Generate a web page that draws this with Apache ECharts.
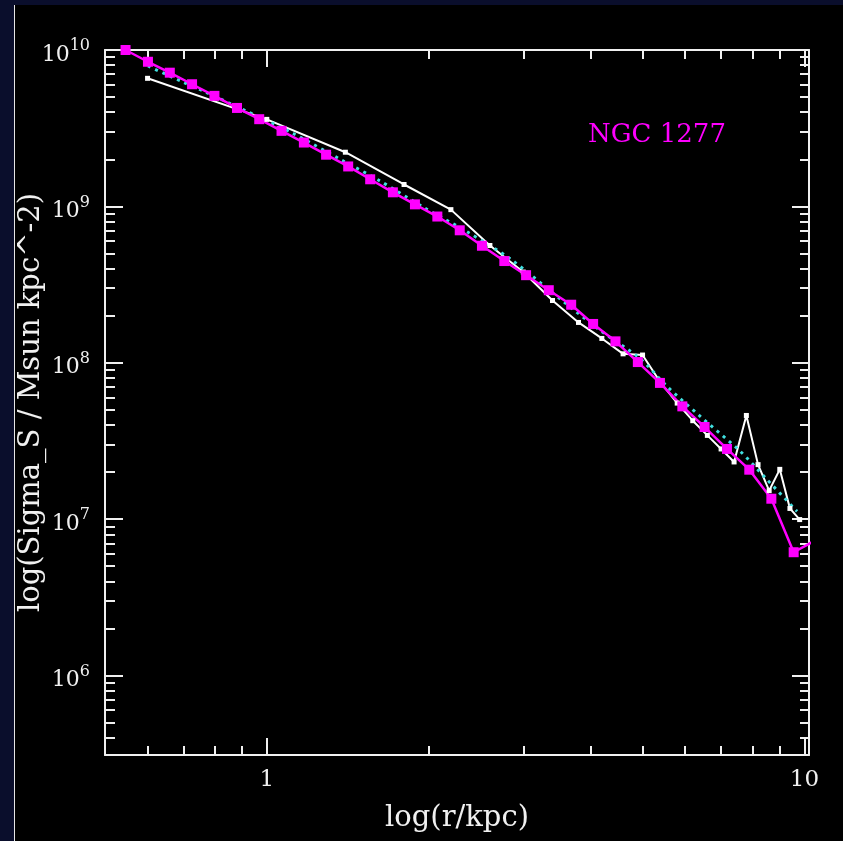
<!DOCTYPE html>
<html lang="en">
<head>
<meta charset="UTF-8">
<title>NGC 1277</title>
<script src="https://cdn.jsdelivr.net/npm/echarts@6/dist/echarts.min.js"></script>
<style>
    html,body{
        margin:0;
        padding:0;
        width:843px;
        height:841px;
        overflow:hidden;
        background:#0a0e2c;
    }
    #box{
        position:absolute;
        left:14px;
        top:5px;
        width:829px;
        height:836px;
        box-sizing:border-box;
        border-left:1px solid #e6e6e6;
        background:#000;
    }
    #chart{
        width:828px;
        height:836px;
    }
</style>
</head>
<body>
<div id="box"><div id="chart"></div></div>
<script>
    // magenta profile (squares)
    var magentaR = [0.546, 0.601, 0.660, 0.726, 0.799, 0.880, 0.968, 1.065, 1.172, 1.289, 1.417,
        1.557, 1.716, 1.886, 2.076, 2.285, 2.513, 2.766, 3.036, 3.346, 3.683, 4.046,
        4.452, 4.900, 5.387, 5.929, 6.522, 7.178, 7.898, 8.681, 9.552, 10.51];
    var magentaSigma = [1.0e10, 8.41e9, 7.16e9, 6.04e9, 5.09e9, 4.26e9, 3.61e9, 3.04e9, 2.56e9, 2.14e9, 1.80e9,
        1.49e9, 1.23e9, 1.03e9, 8.61e8, 7.03e8, 5.60e8, 4.47e8, 3.63e8, 2.91e8, 2.35e8, 1.77e8,
        1.37e8, 1.01e8, 7.43e7, 5.26e7, 3.88e7, 2.81e7, 2.07e7, 1.35e7, 6.14e6, 7.35e6];

    // white profile (small squares)
    var whiteR = [0.6, 1.0, 1.4, 1.8, 2.2, 2.6, 3.0, 3.4, 3.8, 4.2, 4.6, 5.0,
        5.4, 5.8, 6.2, 6.6, 7.0, 7.4, 7.8, 8.2, 8.6, 9.0, 9.4, 9.8];
    var whiteSigma = [6.59e9, 3.60e9, 2.22e9, 1.38e9, 9.53e8, 5.62e8, 3.80e8, 2.50e8, 1.81e8, 1.43e8, 1.14e8, 1.12e8,
        7.48e7, 5.52e7, 4.26e7, 3.43e7, 2.81e7, 2.32e7, 4.60e7, 2.23e7, 1.52e7, 2.08e7, 1.17e7, 9.93e6];

    // cyan dotted fit
    var fitR = [0.601, 0.697, 0.770, 0.913, 1.112, 1.377, 1.623, 1.955, 2.354, 2.835, 3.563, 4.170,
        4.951, 5.551, 6.401, 7.601, 8.520, 9.692];
    var fitSigma = [7.90e9, 6.25e9, 5.37e9, 4.09e9, 2.96e9, 1.98e9, 1.455e9, 9.88e8, 6.90e8, 4.62e8, 2.46e8, 1.61e8,
        1.06e8, 7.06e7, 4.54e7, 2.71e7, 1.79e7, 1.12e7];

    // ticks
    var xMajorTicks = [1, 10];
    var xMinorTicks = [0.6, 0.7, 0.8, 0.9, 2, 3, 4, 5, 6, 7, 8, 9];
    var xTickLabels = [1, 10];
    var yMajorTicks = [1e6, 1e7, 1e8, 1e9, 1e10];
    var yMinorMult = [2, 3, 4, 5, 6, 7, 8, 9];
    var yDecades = [1e5, 1e6, 1e7, 1e8, 1e9];

    var xMin = 0.5, xMax = 10.2, yMin = 3.1e5, yMax = 1e10;
    var fg = '#f0f0f0';

    var yMinorTicks = [];
    for (var i = 0; i < yDecades.length; i++) {
        for (var j = 0; j < yMinorMult.length; j++) {
            var v = yDecades[i] * yMinorMult[j];
            if (v > yMin && v < yMax) yMinorTicks.push(v);
        }
    }

    function pairs(xs, ys) {
        var out = [];
        for (var k = 0; k < xs.length; k++) out.push([xs[k], ys[k]]);
        return out;
    }

    function axis(type, pos, ticks, len, line) {
        var a = {
            type: 'log',
            logBase: 10,
            position: pos,
            axisLine: {show: line, lineStyle: {color: fg, width: 2}},
            axisTick: {show: true, inside: true, length: len, customValues: ticks,
                lineStyle: {color: fg, width: 2}},
            axisLabel: {show: false},
            splitLine: {show: false},
            minorTick: {show: false}
        };
        if (type == 'x') { a.min = xMin; a.max = xMax; }
        else { a.min = yMin; a.max = yMax; }
        return a;
    }

    var xBottom = axis('x', 'bottom', xMinorTicks, 9, true);
    xBottom.axisLabel = {
        show: true, customValues: xTickLabels, margin: 14,
        color: fg, fontFamily: 'DejaVu Serif', fontSize: 23,
        formatter: function (v) { return String(Math.round(v)); }
    };
    xBottom.name = 'log(r/kpc)';
    xBottom.nameLocation = 'middle';
    xBottom.nameGap = 49;
    xBottom.nameMoveOverlap = false;
    xBottom.nameTextStyle = {color: fg, fontFamily: 'DejaVu Serif', fontSize: 29};

    var yLeft = axis('y', 'left', yMinorTicks, 10, true);
    yLeft.axisLabel = {
        show: true, customValues: yMajorTicks, margin: 15, padding: [10, 0, 0, 0],
        formatter: function (v) {
            return '{b|10}{s|' + Math.round(Math.log10(v)) + '}';
        },
        rich: {
            b: {color: fg, fontFamily: 'DejaVu Serif', fontSize: 22, lineHeight: 34},
            s: {color: fg, fontFamily: 'DejaVu Serif', fontSize: 16, lineHeight: 14, verticalAlign: 'top'}
        }
    };
    yLeft.name = 'log(Sigma_S / Msun kpc^-2)';
    yLeft.nameLocation = 'middle';
    yLeft.nameGap = 59;
    yLeft.nameMoveOverlap = false;
    yLeft.nameTextStyle = {color: fg, fontFamily: 'DejaVu Serif', fontSize: 29};

    var option = {
        backgroundColor: '#000',
        animation: false,
        grid: {left: 90, top: 45, right: 34, bottom: 86, containLabel: false, outerBoundsMode: 'none'},
        xAxis: [
            xBottom,
            axis('x', 'bottom', xMajorTicks, 17, false),
            axis('x', 'top', xMinorTicks, 9, true),
            axis('x', 'top', xMajorTicks, 17, false)
        ],
        yAxis: [
            yLeft,
            axis('y', 'left', yMajorTicks, 18, false),
            axis('y', 'right', yMinorTicks, 9, true),
            axis('y', 'right', yMajorTicks, 17, false)
        ],
        graphic: [{
            type: 'text', x: 642, y: 130,
            style: {text: 'NGC 1277', fill: '#ff00ff', font: '26px "DejaVu Serif"',
                textAlign: 'center', textVerticalAlign: 'middle'}
        }],
        series: [
            {
                type: 'line', name: 'white', data: pairs(whiteR, whiteSigma),
                symbol: 'rect', symbolSize: 5, showAllSymbol: true,
                lineStyle: {color: '#ffffff', width: 2},
                itemStyle: {color: '#ffffff'}
            },
            {
                type: 'line', name: 'fit', data: pairs(fitR, fitSigma),
                symbol: 'none', smooth: 0.3,
                lineStyle: {color: '#40e0e0', width: 3, type: [3, 5]}
            },
            {
                type: 'line', name: 'magenta', data: pairs(magentaR, magentaSigma),
                symbol: 'rect', symbolSize: 10, showAllSymbol: true,
                lineStyle: {color: '#ff00ff', width: 2.5},
                itemStyle: {color: '#ff00ff'}
            }
        ]
    };

    var myChart = echarts.init(document.getElementById('chart'));
    myChart.setOption(option);
</script>
</body>
</html>
